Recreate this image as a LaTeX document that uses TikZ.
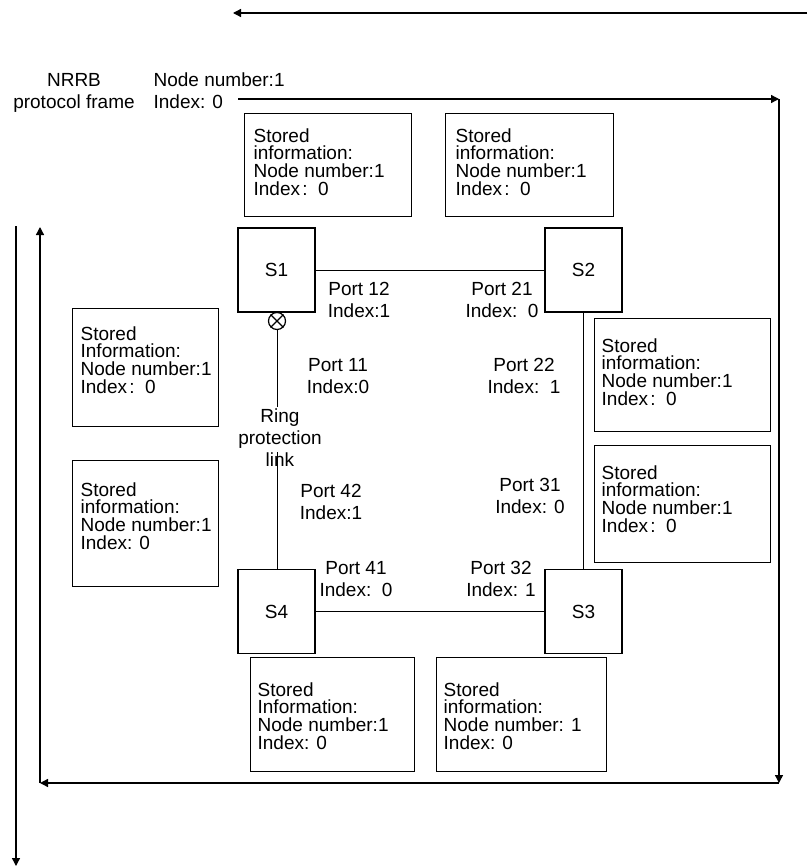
\documentclass[tikz,border=0pt]{standalone}
\usepackage{fontspec}
\setmainfont{Liberation Sans}
\usetikzlibrary{arrows.meta}
\newcommand{\mlL}[2]{{\fontsize{19}{#1}\selectfont\lineskiplimit=-100pt\vtop{\halign{##\hfil\cr#2\crcr}}}}
\newcommand{\mlC}[2]{{\fontsize{19}{#1}\selectfont\lineskiplimit=-100pt\vtop{\halign{\hfil##\hfil\cr#2\crcr}}}}
\newcommand{\fc}{\kern0.12em:\kern0.55em}
\begin{document}
\begin{tikzpicture}[x=1pt,y=-1pt,
  every path/.style={line width=1.3pt},
  arr/.style={-{Triangle[length=8pt,width=8pt]}},
  link/.style={line width=1pt},
  sw/.style={draw,line width=1.3pt,minimum width=77pt,minimum height=84pt,inner sep=0,font=\fontsize{19}{22}\selectfont},
  sbox/.style={draw,line width=1.3pt,anchor=north west,inner sep=0},
  txt/.style={inner sep=0,anchor=base west},
  ctxt/.style={inner sep=0,anchor=base}]
\useasboundingbox (0,0) rectangle (807,867);
% outer arrows
\coordinate (t1) at (807,13);
\coordinate (t2) at (233,13);
\draw[arr] (t1) -- (t2);
\coordinate (a0) at (238,99);
\coordinate (a1) at (779,99);
\coordinate (a2) at (779,783);
\coordinate (a3) at (40,783);
\coordinate (a4) at (40,227);
\draw[arr] (a0) -- (a1);
\draw[arr] (a1) -- (a2);
\draw[arr] (a2) -- (a3);
\draw[arr] (a3) -- (a4);
\coordinate (l1) at (16,226);
\coordinate (l2) at (16,866);
\draw[arr] (l1) -- (l2);
% top labels
\node[ctxt] (nrrb) at (74,86) {\mlC{22}{NRRB\cr protocol frame}};
\node[txt] (frame) at (153,86) {\mlL{22}{Node number:1\cr Index: 0}};
% switches
\node[sw] (S1) at (276.5,270) {S1};
\node[sw] (S2) at (583.5,270) {S2};
\node[sw] (S3) at (583.5,611.5) {S3};
\node[sw] (S4) at (276.5,611.5) {S4};
\draw[link] (S1.east) -- (S2.west);
\draw[link] (S2.south) -- (S3.north);
\draw[link] (S4.east) -- (S3.west);
% blocked port symbol
\node[draw,circle,minimum size=17pt,inner sep=0,line width=1.2pt] (blk) at (277,321) {};
\draw[line width=1.2pt] (blk.north east) -- (blk.south west) (blk.north west) -- (blk.south east);
\coordinate (r1) at (277,407);
\coordinate (r2) at (277,452);
\draw[link] (blk.south) -- (r1);
\draw[link] (r2) -- (S4.north -| r2);
\node[ctxt] (ring) at (280,422) {\mlC{22}{Ring\cr protection\cr link}};
% port labels
\node[ctxt] (p12) at (359,295) {\mlC{22}{Port 12\cr Index:1}};
\node[ctxt] (p21) at (502,295) {\mlC{22}{Port 21\cr Index:\ \ 0}};
\node[ctxt] (p11) at (338,371) {\mlC{22}{Port 11\cr Index:0}};
\node[ctxt] (p22) at (524,371) {\mlC{22}{Port 22\cr Index:\ \ 1}};
\node[ctxt] (p42) at (331,497) {\mlC{22}{Port 42\cr Index:1}};
\node[ctxt] (p31) at (530,491) {\mlC{22}{Port 31\cr Index: 0}};
\node[ctxt] (p41) at (356,574) {\mlC{22}{Port 41\cr Index:\ \ 0}};
\node[ctxt] (p32) at (501,574) {\mlC{22}{Port 32\cr Index: 1}};
% stored information boxes
\node[sbox,minimum width=167pt,minimum height=103pt] (b1) at (244,113) {};
\node[txt] (b1t) at (253,142) {\mlL{17.8}{Stored\cr information:\cr Node number:1\cr Index\fc 0}};
\node[sbox,minimum width=168pt,minimum height=103pt] (b2) at (445,113) {};
\node[txt] (b2t) at (455,142) {\mlL{17.8}{Stored\cr information:\cr Node number:1\cr Index\fc 0}};
\node[sbox,minimum width=146pt,minimum height=118pt] (b3) at (72,308) {};
\node[txt] (b3t) at (80,340) {\mlL{17.8}{Stored\cr Information:\cr Node number:1\cr Index\fc 0}};
\node[sbox,minimum width=146pt,minimum height=126pt] (b4) at (72,460) {};
\node[txt] (b4t) at (80,496) {\mlL{17.8}{Stored\cr information:\cr Node number:1\cr Index: 0}};
\node[sbox,minimum width=176pt,minimum height=113pt] (b5) at (594,318) {};
\node[txt] (b5t) at (601,352) {\mlL{17.8}{Stored\cr information:\cr Node number:1\cr Index\fc 0}};
\node[sbox,minimum width=176pt,minimum height=117pt] (b6) at (594,445) {};
\node[txt] (b6t) at (601,479) {\mlL{17.8}{Stored\cr information:\cr Node number:1\cr Index\fc 0}};
\node[sbox,minimum width=164pt,minimum height=114pt] (b7) at (250,657) {};
\node[txt] (b7t) at (257,696) {\mlL{17.8}{Stored\cr Information:\cr Node number:1\cr Index: 0}};
\node[sbox,minimum width=170pt,minimum height=114pt] (b8) at (436,657) {};
\node[txt] (b8t) at (443,696) {\mlL{17.8}{Stored\cr information:\cr Node number: 1\cr Index: 0}};
\end{tikzpicture}
\end{document}
